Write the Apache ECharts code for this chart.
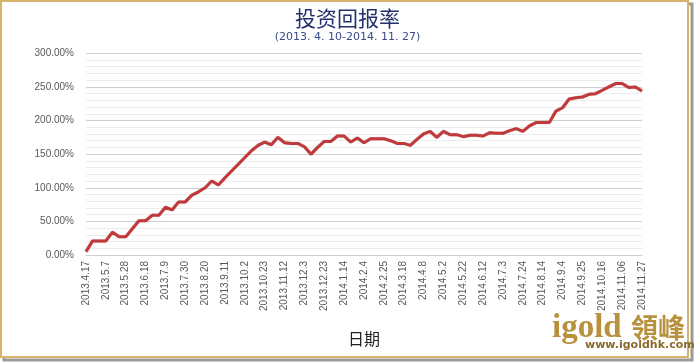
<!DOCTYPE html>
<html>
<head>
<meta charset="utf-8">
<script src="https://cdn.jsdelivr.net/npm/echarts@6/dist/echarts.min.js"></script>
<style>
html,body{margin:0;padding:0;background:#fff;}
#chart{width:695px;height:362px;}
</style>
</head>
<body>
<div id="chart"></div>
<script>
// Weekly dates (label shown every 3rd)
const categories = [
  "2013.4.17","2013.4.24","2013.4.30","2013.5.7","2013.5.14","2013.5.21","2013.5.28","2013.6.4","2013.6.11",
  "2013.6.18","2013.6.25","2013.7.2","2013.7.9","2013.7.16","2013.7.23","2013.7.30","2013.8.6","2013.8.13",
  "2013.8.20","2013.8.27","2013.9.3","2013.9.11","2013.9.18","2013.9.25","2013.10.2","2013.10.9","2013.10.16",
  "2013.10.23","2013.10.30","2013.11.6","2013.11.12","2013.11.19","2013.11.26","2013.12.3","2013.12.10","2013.12.17",
  "2013.12.23","2013.12.31","2014.1.7","2014.1.14","2014.1.21","2014.1.28","2014.2.4","2014.2.11","2014.2.18",
  "2014.2.25","2014.3.4","2014.3.11","2014.3.18","2014.3.25","2014.4.1","2014.4.8","2014.4.16","2014.4.24",
  "2014.5.2","2014.5.8","2014.5.15","2014.5.22","2014.5.29","2014.6.5","2014.6.12","2014.6.19","2014.6.26",
  "2014.7.3","2014.7.10","2014.7.17","2014.7.24","2014.7.31","2014.8.7","2014.8.14","2014.8.21","2014.8.28",
  "2014.9.4","2014.9.11","2014.9.18","2014.9.25","2014.10.2","2014.10.9","2014.10.16","2014.10.23","2014.10.30",
  "2014.11.06","2014.11.13","2014.11.20","2014.11.27"
];
// Return on investment, percent
const returnPct = [
  5,21,21,21,34,27,27,39,51,
  51,59,59,71,67,79,79,89,94,
  100,110,104,115,125,135,145,155,163,
  168,164,175,167,166,166,161,150,160,
  169,169,177,177,168,174,167,173,173,
  173,170,166,166,163,172,180,184,175,
  184,179,179,176,178,178,177,182,181,
  181,185,188,184,192,197,197,197,214,
  219,232,234,235,239,240,245,250,255,
  255,249,250,244
];
const yTicks = [0, 50, 100, 150, 200, 250, 300];
const titleText = "投资回报率";
const subtitleText = "(2013. 4. 10-2014. 11. 27)";
const xAxisName = "日期";

const chart = echarts.init(document.getElementById('chart'), null, {renderer: 'canvas'});
chart.setOption({
  animation: false,
  backgroundColor: '#ffffff',
  title: {
    text: titleText,
    subtext: subtitleText,
    left: 'center',
    top: 3,
    itemGap: 3,
    textStyle: {fontFamily: '"Noto Sans CJK SC", sans-serif', fontSize: 21, fontWeight: 'normal', color: '#24306e'},
    subtextStyle: {fontFamily: '"DejaVu Sans", sans-serif', fontSize: 11, color: '#3b4a88'}
  },
  grid: {left: 86, right: 53, top: 53.3, bottom: 107, containLabel: false},
  xAxis: {
    type: 'category',
    data: categories,
    boundaryGap: false,
    name: xAxisName,
    nameLocation: 'middle',
    nameGap: 76,
    nameTextStyle: {fontFamily: '"Noto Sans CJK SC", sans-serif', fontSize: 16, color: '#222222'},
    axisLine: {show: true, lineStyle: {color: '#cfcfcf', width: 1}},
    axisTick: {show: false},
    axisLabel: {
      interval: 2,
      rotate: 90,
      margin: 6,
      fontFamily: '"Liberation Sans", Arial, sans-serif',
      fontSize: 10,
      color: '#595959'
    },
    splitLine: {show: false}
  },
  yAxis: {
    type: 'value',
    min: yTicks[0],
    max: yTicks[yTicks.length - 1],
    interval: 50,
    axisLine: {show: false},
    axisTick: {show: false},
    axisLabel: {
      margin: 12,
      fontFamily: '"Liberation Sans", Arial, sans-serif',
      fontSize: 10,
      color: '#595959',
      formatter: v => v.toFixed(2) + '%'
    },
    splitLine: {show: true, lineStyle: {color: '#cfcfcf', width: 1}},
    minorTick: {show: false, splitNumber: 5},
    minorSplitLine: {show: true, lineStyle: {color: '#ececec', width: 1}}
  },
  series: [{
    type: 'line',
    data: returnPct,
    symbol: 'none',
    smooth: false,
    lineStyle: {color: '#c0393b', width: 3, shadowColor: 'rgba(120,20,20,0.35)', shadowBlur: 1},
    itemStyle: {color: '#c0393b'}
  }],
  graphic: [
    {type: 'rect', shape: {x: 4, y: 4, width: 688, height: 356}, style: {fill: 'none', stroke: '#9a9a9a', lineWidth: 3}, z: -2, silent: true},
    {type: 'rect', shape: {x: 1, y: 1, width: 687, height: 356}, style: {fill: '#ffffff', stroke: '#d8b36a', lineWidth: 2}, z: -1, silent: true},
    {type: 'text', left: 552, top: 312, style: {text: 'igold', font: 'bold 33px "Liberation Serif", "DejaVu Serif", serif', fill: '#b8913c'}, z: 10},
    {type: 'text', left: 631, top: 314, style: {text: '領峰', font: 'bold 27px "Noto Sans CJK TC", serif', fill: '#b8913c'}, z: 10},
    {type: 'text', left: 585, top: 340, style: {text: 'www.igoldhk.com', font: 'bold 11px "DejaVu Sans", sans-serif', fill: '#8a6a2a'}, z: 10}
  ]
});
</script>
</body>
</html>
